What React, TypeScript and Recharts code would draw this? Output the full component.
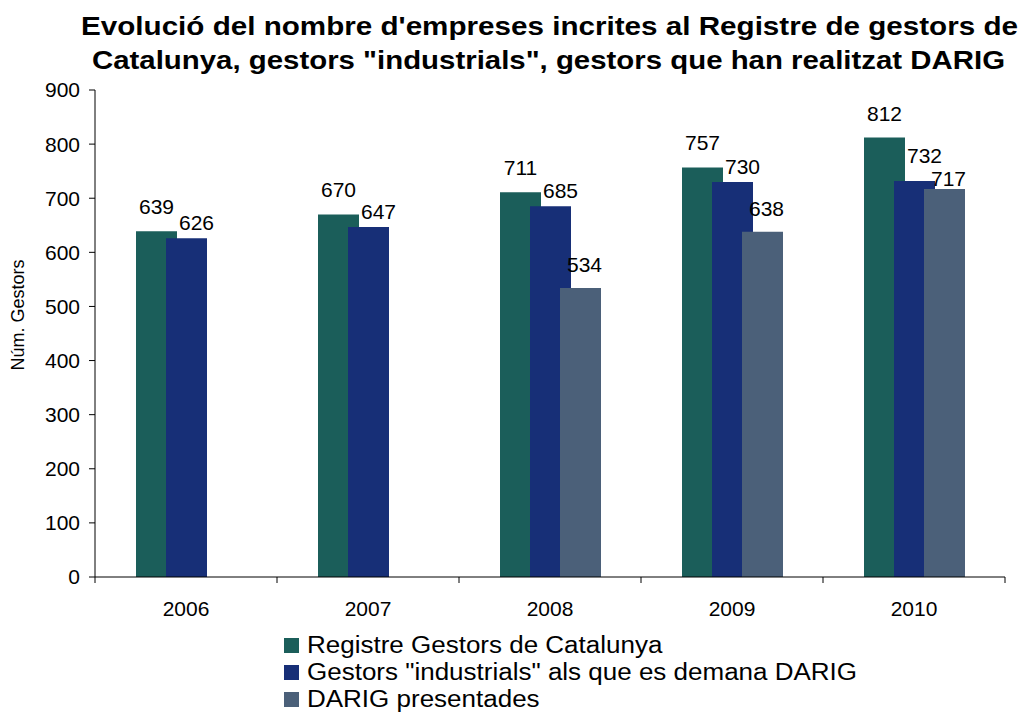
import { BarChart, Bar, XAxis, YAxis, LabelList, Legend } from 'recharts';

const years = ['2006', '2007', '2008', '2009', '2010'];
const registre = [639, 670, 711, 757, 812];
const industrials = [626, 647, 685, 730, 732];
const darig = [null, null, 534, 638, 717];
const yTicks = [0, 100, 200, 300, 400, 500, 600, 700, 800, 900];

const titleLines = [
  "Evolució del nombre d'empreses incrites al Registre de gestors de",
  'Catalunya, gestors "industrials", gestors que han realitzat DARIG',
];

const series = [
  { key: 'registre', name: 'Registre Gestors de Catalunya', color: '#1B5E5A', dx: 0, values: registre },
  { key: 'industrials', name: 'Gestors "industrials" als que es demana DARIG', color: '#172F77', dx: 10, values: industrials },
  { key: 'darig', name: 'DARIG presentades', color: '#4B6079', dx: 4, values: darig },
];

const data = years.map((year, i) => ({
  year,
  registre: registre[i],
  industrials: industrials[i],
  darig: darig[i],
}));

const FONT = '"Liberation Sans", Arial, sans-serif';
const W = 1020;
const H = 713;
const margin = { top: 90, right: 15, bottom: 96, left: 0 };
const yAxisWidth = 95;
const halfBand = (W - margin.right - margin.left - yAxisWidth) / years.length / 2;

// third bar close to the second one: labels get stacked like in the original
const crowded = (i: number) => darig[i] != null && industrials[i] - (darig[i] as number) < 40;

const labelGap = (key: string, i: number) => {
  if (key === 'registre') return 17;
  if (key === 'industrials') return crowded(i) ? 18 : 8;
  return crowded(i) ? 3 : 16;
};

const YearTick = (props: any) => {
  const { x, y, payload } = props;
  const isLast = payload.value === years[years.length - 1];
  return (
    <g>
      <line x1={x - halfBand} x2={x - halfBand} y1={y} y2={y + 6} stroke="#000" />
      {isLast && <line x1={x + halfBand} x2={x + halfBand} y1={y} y2={y + 6} stroke="#000" />}
      <text x={x} y={y + 39} textAnchor="middle" fontSize={21} fontFamily={FONT} fill="#000">
        {payload.value}
      </text>
    </g>
  );
};

const makeLabel = (key: string, dx: number, values: (number | null)[]) => (props: any) => {
  const { x, y, width, value } = props;
  if (value == null) return null;
  const i = values.indexOf(Number(value));
  return (
    <text
      x={x + width / 2 + dx}
      y={y - labelGap(key, i)}
      textAnchor="middle"
      fontSize={21}
      fontFamily={FONT}
      fill="#000"
    >
      {value}
    </text>
  );
};

const renderLegend = () => (
  <div style={{ fontFamily: FONT, fontSize: 23, color: '#000' }}>
    {series.map(s => (
      <div key={s.key} style={{ display: 'flex', alignItems: 'center', height: 27, whiteSpace: 'nowrap' }}>
        <span style={{ display: 'inline-block', width: 15, height: 15, background: s.color, marginRight: 8 }} />
        <span style={{ display: 'inline-block', transform: 'scaleX(1.13)', transformOrigin: 'left center' }}>
          {s.name}
        </span>
      </div>
    ))}
  </div>
);

export default function App() {
  return (
    <div style={{ position: 'absolute', left: 0, top: 0, width: W, height: H, background: '#fff' }}>
      <svg width={W} height={100} style={{ position: 'absolute', left: 0, top: 0 }}>
        <text x={549.5} y={35} textAnchor="middle" fontSize={26} fontWeight="bold" fontFamily={FONT}
          textLength={937} lengthAdjust="spacingAndGlyphs">
          {titleLines[0]}
        </text>
        <text x={548.5} y={69} textAnchor="middle" fontSize={26} fontWeight="bold" fontFamily={FONT}
          textLength={913} lengthAdjust="spacingAndGlyphs">
          {titleLines[1]}
        </text>
      </svg>
      <div style={{ position: 'absolute', left: 0, top: 0 }}>
        <BarChart width={W} height={H} data={data} margin={margin} barGap={-11}>
          <XAxis
            dataKey="year"
            axisLine={{ stroke: '#000' }}
            tickLine={false}
            tickSize={0}
            tickMargin={0}
            height={40}
            interval={0}
            tick={<YearTick />}
          />
          <YAxis
            width={yAxisWidth}
            domain={[0, 900]}
            ticks={yTicks}
            interval={0}
            axisLine={{ stroke: '#000' }}
            tickLine={{ stroke: '#000' }}
            tickSize={6}
            tickMargin={9}
            tick={{ fontSize: 21, fontFamily: FONT, fill: '#000' }}
            label={{
              content: () => (
                <text x={18} y={315} transform="rotate(-90 18 315)" textAnchor="middle"
                  dominantBaseline="central" fontSize={18} fontFamily={FONT} fill="#000">
                  Núm. Gestors
                </text>
              ),
            }}
          />
          <Legend
            layout="horizontal"
            verticalAlign="middle"
            align="center"
            content={renderLegend}
            wrapperStyle={{ left: 284, top: 632, width: 'auto', height: 'auto' }}
          />
          {series.map(s => (
            <Bar key={s.key} dataKey={s.key} name={s.name} fill={s.color} barSize={41} isAnimationActive={false}>
              <LabelList dataKey={s.key} content={makeLabel(s.key, s.dx, s.values)} />
            </Bar>
          ))}
        </BarChart>
      </div>
    </div>
  );
}
